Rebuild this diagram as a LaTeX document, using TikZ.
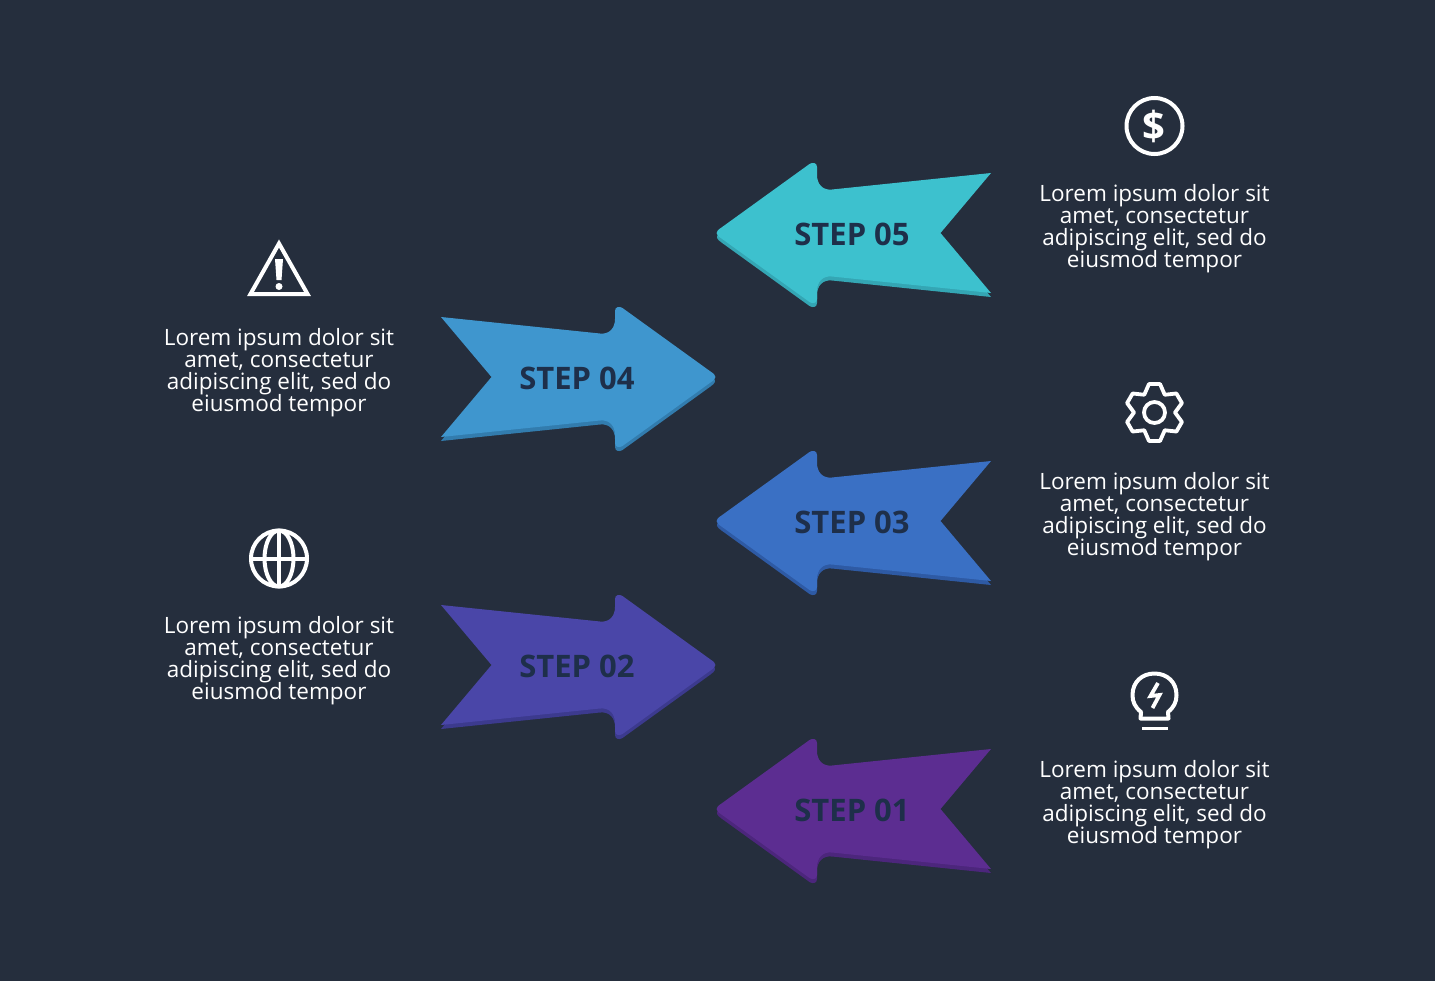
\documentclass[tikz,border=0pt]{standalone}
\usepackage{fontspec}
\setmainfont{Open Sans}
\usepackage{xcolor}
\usetikzlibrary{positioning, calc}
\setlength{\lineskiplimit}{-10pt}
\definecolor{panelnavy}{RGB}{37, 46, 61}
\definecolor{labelnavy}{RGB}{30, 47, 74}
\definecolor{tealmain}{RGB}{61, 193, 206}
\definecolor{tealdark}{RGB}{52, 166, 180}
\definecolor{skymain}{RGB}{63, 150, 206}
\definecolor{skydark}{RGB}{50, 124, 174}
\definecolor{bluemain}{RGB}{58, 112, 196}
\definecolor{bluedark}{RGB}{46, 90, 164}
\definecolor{indigomain}{RGB}{74, 70, 168}
\definecolor{indigodark}{RGB}{60, 58, 142}
\definecolor{purplemain}{RGB}{92, 45, 145}
\definecolor{purpledark}{RGB}{76, 38, 124}

\begin{document}
\begin{tikzpicture}[
  x=1pt, y=-1pt,
  steplabel/.style={
    font=\fontsize{31}{33}\selectfont\bfseries, text=labelnavy, inner sep=0pt
  },
  blurb/.style={
    font=\fontsize{22.5}{22}\selectfont, text=white, align=center, inner sep=0pt
  },
  icon/.style={draw=white, line width=4pt},
  pics/stepshape/.style={code={
    \path[pic actions] (137.5,-60) -- (87,0) -- (137.5,60) -- (-21.5,43.5)
      .. controls (-31,42.5) and (-36.5,49) .. (-36.5,58) -- (-36.5,66)
      .. controls (-36.5,70.5) and (-41,71) .. (-44,69) -- (-132,5.5)
      .. controls (-138.5,1.5) and (-138.5,-1.5) .. (-132,-5.5) -- (-44,-69)
      .. controls (-41,-71) and (-36.5,-70.5) .. (-36.5,-66) -- (-36.5,-58)
      .. controls (-36.5,-49) and (-31,-42.5) .. (-21.5,-43.5) -- cycle;
  }},
  pics/stepdepth/.style={code={
    \path[pic actions] (87,0) -- (137.5,60) -- (-21.5,43.5)
      .. controls (-31,42.5) and (-36.5,49) .. (-36.5,58) -- (-36.5,66)
      .. controls (-36.5,70.5) and (-41,71) .. (-44,69) -- (-132,5.5)
      .. controls (-137,2) and (-137.5,0) .. (-135,-3) -- cycle;
  }}
]

  % Fond
  \useasboundingbox (0,0) rectangle (1435,980);
  \fill[panelnavy] (-3,-3) rectangle (1438,983);

  % Fleches (ombre puis corps)
  \pic[fill=tealdark] at (853.5,237) {stepdepth};
  \pic[fill=tealmain] at (853.5,233) {stepshape};
  \pic[fill=skydark, xscale=-1] at (578.5,381) {stepdepth};
  \pic[fill=skymain, xscale=-1] at (578.5,377) {stepshape};
  \pic[fill=bluedark] at (853.5,525) {stepdepth};
  \pic[fill=bluemain] at (853.5,521) {stepshape};
  \pic[fill=indigodark, xscale=-1] at (578.5,669) {stepdepth};
  \pic[fill=indigomain, xscale=-1] at (578.5,665) {stepshape};
  \pic[fill=purpledark] at (853.5,813) {stepdepth};
  \pic[fill=purplemain] at (853.5,809) {stepshape};

  % Etiquettes
  \node[steplabel] (step5) at (852,234) {STEP 05};
  \node[steplabel] (step4) at (577,378) {STEP 04};
  \node[steplabel] (step3) at (852,522) {STEP 03};
  \node[steplabel] (step2) at (577,666) {STEP 02};
  \node[steplabel] (step1) at (852,810) {STEP 01};

  % Textes
  \node[blurb] (text5) at (1154.5,228.5) {Lorem ipsum dolor sit\\amet, consectetur\\adipiscing elit, sed do\\eiusmod tempor};
  \node[blurb] (text4) at (279,372.5) {Lorem ipsum dolor sit\\amet, consectetur\\adipiscing elit, sed do\\eiusmod tempor};
  \node[blurb] (text3) at (1154.5,516.5) {Lorem ipsum dolor sit\\amet, consectetur\\adipiscing elit, sed do\\eiusmod tempor};
  \node[blurb] (text2) at (279,660.5) {Lorem ipsum dolor sit\\amet, consectetur\\adipiscing elit, sed do\\eiusmod tempor};
  \node[blurb] (text1) at (1154.5,804.5) {Lorem ipsum dolor sit\\amet, consectetur\\adipiscing elit, sed do\\eiusmod tempor};

  % Icone dollar
  \draw[icon] (1154.5,126) circle (28);
  \node[font=\fontsize{40}{40}\selectfont\bfseries, text=white, inner sep=0pt] (dollar) at (1154,126) {\$};

  % Icone alerte
  \draw[icon, line join=miter] (279,243.5) -- (307.5,294) -- (250.5,294) -- cycle;
  \fill[white] (275,259) -- (283,259) -- (281.5,280) -- (276.5,280) -- cycle;
  \fill[white] (279,286.5) circle (3.5);

  % Icone engrenage
  \draw[white, line width=3.8pt, line join=round]
    ($(1154.5,412.5)+(120:20.5)$)
    \foreach \a in {90,30,-30,-90,-150,150} {
      -- ($(1154.5,412.5)+({\a+11}:29)$)
      -- ($(1154.5,412.5)+({\a-11}:29)$)
      -- ($(1154.5,412.5)+({\a-30}:20.5)$)
    } -- cycle;
  \draw[white, line width=3.8pt] (1154.5,412.5) circle (10.5);

  % Icone globe
  \draw[icon] (279,558.5) circle (28);
  \draw[icon] (279,558.5) ellipse (14.5 and 28);
  \draw[icon] (279,530.5) -- (279,586.5);
  \draw[icon] (251,558.5) -- (307,558.5);

  % Icone ampoule
  \draw[icon, line join=round] (1140.5,718.5) -- (1141,712)
    .. controls (1135,707) and (1132.5,702) .. (1132.5,695)
    .. controls (1132.5,682) and (1142,673.5) .. (1154.5,673.5)
    .. controls (1167,673.5) and (1176.5,682) .. (1176.5,695)
    .. controls (1176.5,702) and (1174,707) .. (1168,712) -- (1168.5,718.5) -- cycle;
  \draw[white, line width=3.5pt] (1142,728.5) -- (1168,728.5);
  \draw[white, line width=3.8pt, line join=miter] (1158,683) -- (1150.5,696) -- (1159.5,695) -- (1152.5,708);

\end{tikzpicture}
\end{document}
